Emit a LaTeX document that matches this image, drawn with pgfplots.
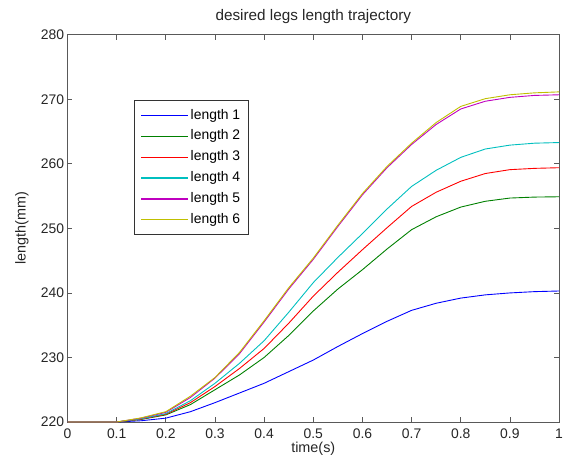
\documentclass[border=0pt]{standalone}
\usepackage{fontspec}
\setmainfont{Liberation Sans}
\usepackage{pgfplots}
\pgfplotsset{compat=1.18}

% MATLAB default line colours
\definecolor{mblue}{rgb}{0,0,1}
\definecolor{mgreen}{rgb}{0,0.5,0}
\definecolor{mred}{rgb}{1,0,0}
\definecolor{mcyan}{rgb}{0,0.75,0.75}
\definecolor{mmagenta}{rgb}{0.75,0,0.75}
\definecolor{myellow}{rgb}{0.75,0.75,0}
\definecolor{framegray}{gray}{0.35}

\begin{document}
\begin{tikzpicture}
\begin{axis}[
  scale only axis,
  width=495pt, height=390pt,
  xmin=0, xmax=1, ymin=220, ymax=280,
  xtick={0,0.1,...,1.01},
  ytick={220,230,...,280},
  xticklabel style={/pgf/number format/fixed,/pgf/number format/precision=1, yshift=-3pt},
  /pgf/number format/assume math mode=true,
  tick align=inside,
  major tick length=5pt,
  tick style={framegray, line width=0.7pt},
  axis line style={framegray, line width=1pt},
  tick label style={font=\fontsize{14}{16}\selectfont, text=black!85},
  label style={font=\fontsize{14.5}{16}\selectfont, text=black!85},
  title style={font=\fontsize{15.4}{17}\selectfont, text=black!85,
    at={(axis description cs:0.5,1.041)}, anchor=center, yshift=-4pt},
  title={desired legs length trajectory},
  xlabel={time(s)},
  ylabel={length(mm)},
  xlabel style={at={(axis description cs:0.5,-0.069)}, anchor=center},
  ylabel style={at={(axis description cs:-0.093,0.5)}, anchor=center},
  legend style={at={(0.1354,0.8308)}, anchor=north west,
    draw=black!80, line width=0.7pt,
    font=\fontsize{14}{16}\selectfont,
    nodes={inner sep=2pt, text height=10pt, text depth=3pt},
    row sep=4pt, inner xsep=6.5pt, inner ysep=6.5pt},
  legend cell align=left,
  legend image code/.code={\draw[#1,line width=1.2pt] (0pt,0pt) -- (47pt,0pt);},
  every axis plot/.append style={line width=0.9pt},
]
\addplot[draw=mblue] coordinates {
 (0,220) (0.05,220) (0.1,220) (0.15,220.2) (0.2,220.6) (0.25,221.6) (0.3,223.0)
 (0.35,224.5) (0.4,226.0) (0.45,227.8) (0.5,229.6) (0.55,231.7) (0.6,233.7)
 (0.65,235.6) (0.7,237.3) (0.75,238.4) (0.8,239.2) (0.85,239.7) (0.9,240.0)
 (0.95,240.2) (1,240.3)};
\addlegendentry{length 1}
\addplot[draw=mgreen] coordinates {
 (0,220) (0.05,220) (0.1,220) (0.15,220.4) (0.2,221.1) (0.25,222.7) (0.3,225.0)
 (0.35,227.3) (0.4,230.0) (0.45,233.4) (0.5,237.2) (0.55,240.6) (0.6,243.6)
 (0.65,246.8) (0.7,249.8) (0.75,251.8) (0.8,253.3) (0.85,254.2) (0.9,254.7)
 (0.95,254.85) (1,254.9)};
\addlegendentry{length 2}
\addplot[draw=mred] coordinates {
 (0,220) (0.05,220) (0.1,220) (0.15,220.45) (0.2,221.2) (0.25,223.0) (0.3,225.5)
 (0.35,228.3) (0.4,231.4) (0.45,235.3) (0.5,239.5) (0.55,243.2) (0.6,246.7)
 (0.65,250.1) (0.7,253.4) (0.75,255.6) (0.8,257.3) (0.85,258.5) (0.9,259.1)
 (0.95,259.3) (1,259.4)};
\addlegendentry{length 3}
\addplot[draw=mcyan] coordinates {
 (0,220) (0.05,220) (0.1,220) (0.15,220.5) (0.2,221.3) (0.25,223.3) (0.3,226.0)
 (0.35,229.1) (0.4,232.6) (0.45,237.0) (0.5,241.6) (0.55,245.5) (0.6,249.2)
 (0.65,253.0) (0.7,256.5) (0.75,259.0) (0.8,261.0) (0.85,262.3) (0.9,262.9)
 (0.95,263.2) (1,263.3)};
\addlegendentry{length 4}
\addplot[draw=mmagenta] coordinates {
 (0,220) (0.05,220) (0.1,220) (0.15,220.6) (0.2,221.5) (0.25,223.8) (0.3,226.8)
 (0.35,230.6) (0.4,235.5) (0.45,240.6) (0.5,245.2) (0.55,250.3) (0.6,255.2)
 (0.65,259.4) (0.7,263.0) (0.75,266.1) (0.8,268.5) (0.85,269.7) (0.9,270.3)
 (0.95,270.6) (1,270.7)};
\addlegendentry{length 5}
\addplot[draw=myellow] coordinates {
 (0,220) (0.05,220) (0.1,220) (0.15,220.65) (0.2,221.6) (0.25,224.0) (0.3,226.9)
 (0.35,230.8) (0.4,235.7) (0.45,240.8) (0.5,245.4) (0.55,250.5) (0.6,255.4)
 (0.65,259.6) (0.7,263.2) (0.75,266.4) (0.8,268.9) (0.85,270.1) (0.9,270.7)
 (0.95,271.0) (1,271.15)};
\addlegendentry{length 6}
\end{axis}
% page frame around the axis box
\pgfresetboundingbox
\path ([xshift=-68pt,yshift=-41pt]current axis.south west)
  rectangle ([xshift=6pt,yshift=35pt]current axis.north east);
\end{tikzpicture}
\end{document}
